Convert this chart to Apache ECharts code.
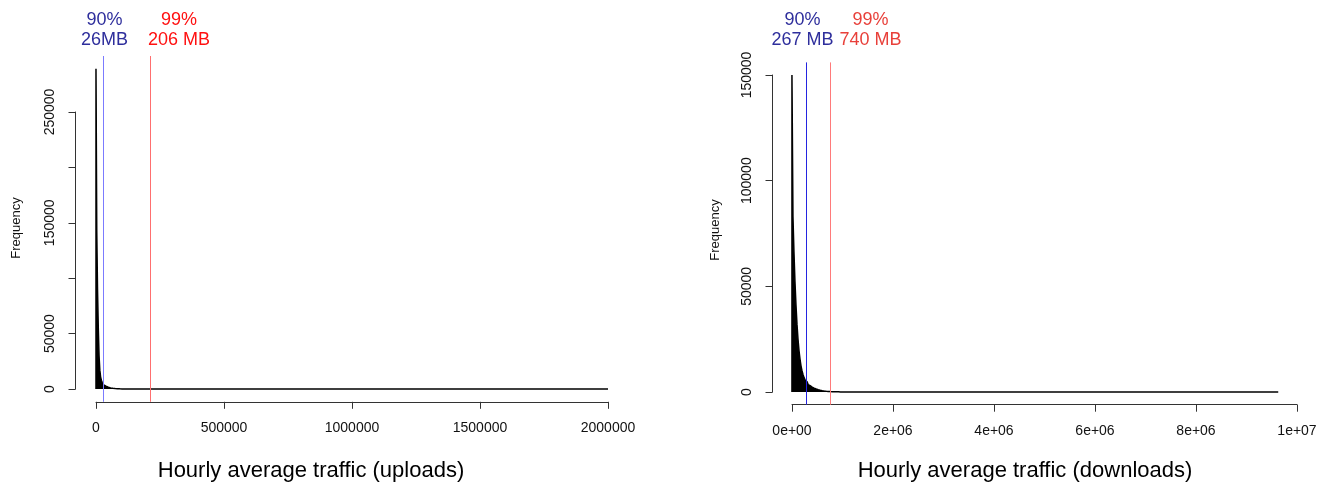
<!DOCTYPE html>
<html><head><meta charset="utf-8">
<script src="https://cdn.jsdelivr.net/npm/echarts@6/dist/echarts.min.js"></script>
<style>html,body{margin:0;padding:0;background:#fff}#c{width:1331px;height:489px}</style>
</head><body><div id="c"></div>
<script>
// ---------- data ----------
// uploads histogram (bin width in traffic units, KB)
const upBinWidth = 3000;
const upCounts = [289000, 143000, 90000, 55000, 30000, 17000, 11000, 8000, 6000, 4700,
  3800, 3100, 2600, 2200, 1850, 1550, 1300, 1100, 930, 790,
  670, 570, 490, 420, 360, 310, 265, 230, 200, 175, 150, 130, 110, 95, 80];
const upHistMax = 2000000;
const upXTicks = [0, 500000, 1000000, 1500000, 2000000];
const upYTicks = [0, 50000, 100000, 150000, 200000, 250000];
const upYShown = [0, 50000, 150000, 250000];
const upPctLabels = ['90%', '99%'];
const upPctMB = [26, 206];
const upPctText = ['26MB', '206 MB'];

// downloads histogram
const downBinWidth = 20000;
const downCounts = [150000, 83000, 66000, 52000, 41000, 32000, 25000, 19500, 15500, 12300,
  10000, 8200, 6800, 5700, 4800, 4100, 3500, 3000, 2600, 2300,
  2050, 1850, 1650, 1450, 1280, 1120, 980, 860, 750, 650,
  560, 490, 430, 380, 330, 290, 250, 220, 190, 170,
  150, 130, 115, 100, 90, 80, 70, 60, 50, 45, 40];
const downHistMax = 9630000;
const downXTicks = [0, 2000000, 4000000, 6000000, 8000000, 10000000];
const downYTicks = [0, 50000, 100000, 150000];
const downPctLabels = ['90%', '99%'];
const downPctMB = [267, 740];
const downPctText = ['267 MB', '740 MB'];

const titles = ['Hourly average traffic (uploads)', 'Hourly average traffic (downloads)'];
const yLabel = 'Frequency';

// ---------- build ----------
function histPoints(bw, counts, max) {
  const pts = [[0, 0]];
  counts.forEach((c, i) => pts.push([i * bw, c]));
  pts.push([counts.length * bw, 0]);
  pts.push([max, 0]);
  return pts;
}
function sci(v) {
  if (v === 0) return '0e+00';
  const e = Math.floor(Math.log10(v) + 1e-9);
  const m = Math.round(v / Math.pow(10, e));
  return m + 'e+' + (e < 10 ? '0' + e : e);
}
const FONT = "'Liberation Sans', Arial, Helvetica, sans-serif";
const axisCol = '#333';

const chart = echarts.init(document.getElementById('c'), null, {renderer: 'canvas'});

const upPlot = {left: 75.5, top: 56, width: 553, height: 345.8};
const downPlot = {left: 772.5, top: 62.4, width: 525.2, height: 342.3};

function hiddenAxis(gi, min, max) { return {gridIndex: gi, type: 'value', min, max, show: false}; }

const grids = [
  upPlot,
  {left: 96, top: 56, width: 512, height: 345.8},
  {left: 75.5, top: 112, width: 10, height: 277},
  downPlot,
  {left: 792, top: 62.4, width: 505, height: 342.3},
  {left: 772.5, top: 75, width: 10, height: 317}
];

const xAxisLabelStyle = {fontFamily: FONT, fontSize: 14, color: '#111', margin: 19};
const yAxisLabelBase = {fontFamily: FONT, fontSize: 14, color: '#111', rotate: 90, margin: 18};

const xAxes = [
  hiddenAxis(0, -80000, 2080000),
  {gridIndex: 1, type: 'value', min: upXTicks[0], max: upXTicks[upXTicks.length - 1],
   interval: upXTicks[1] - upXTicks[0], position: 'bottom',
   axisLine: {show: true, onZero: false, lineStyle: {color: axisCol, width: 1}},
   axisTick: {show: true, inside: false, length: 7, lineStyle: {color: axisCol}},
   splitLine: {show: false},
   axisLabel: Object.assign({}, xAxisLabelStyle, {formatter: v => String(v)})},
  hiddenAxis(2, 0, 1),
  hiddenAxis(3, -385200, 10015200),
  {gridIndex: 4, type: 'value', min: downXTicks[0], max: downXTicks[downXTicks.length - 1],
   interval: downXTicks[1] - downXTicks[0], position: 'bottom',
   axisLine: {show: true, onZero: false, lineStyle: {color: axisCol, width: 1}},
   axisTick: {show: true, inside: false, length: 7, lineStyle: {color: axisCol}},
   splitLine: {show: false},
   axisLabel: Object.assign({}, xAxisLabelStyle, {fontSize: 14, formatter: v => sci(v)})},
  hiddenAxis(5, 0, 1)
];
const yAxes = [
  hiddenAxis(0, -11560, 300560),
  hiddenAxis(1, 0, 1),
  {gridIndex: 2, type: 'value', min: upYTicks[0], max: upYTicks[upYTicks.length - 1],
   interval: upYTicks[1] - upYTicks[0], position: 'left',
   axisLine: {show: true, onZero: false, lineStyle: {color: axisCol, width: 1}},
   axisTick: {show: true, inside: false, length: 7, lineStyle: {color: axisCol}},
   splitLine: {show: false},
   axisLabel: Object.assign({}, yAxisLabelBase, {formatter: v => (upYShown.indexOf(v) >= 0 ? String(v) : '')})},
  hiddenAxis(3, -6000, 156000),
  hiddenAxis(4, 0, 1),
  {gridIndex: 5, type: 'value', min: downYTicks[0], max: downYTicks[downYTicks.length - 1],
   interval: downYTicks[1] - downYTicks[0], position: 'left',
   axisLine: {show: true, onZero: false, lineStyle: {color: axisCol, width: 1}},
   axisTick: {show: true, inside: false, length: 7, lineStyle: {color: axisCol}},
   splitLine: {show: false},
   axisLabel: Object.assign({}, yAxisLabelBase, {formatter: v => String(v)})}
];

function pctMarkLine(mbs, colors) {
  return {
    silent: true, symbol: 'none', animation: false,
    label: {show: false},
    data: mbs.map((mb, i) => ({xAxis: mb * 1024, lineStyle: {color: colors[i], width: 1, type: 'solid'}}))
  };
}

const series = [
  {type: 'line', xAxisIndex: 0, yAxisIndex: 0, step: 'end', showSymbol: false, symbol: 'none',
   animation: false,
   data: histPoints(upBinWidth, upCounts, upHistMax),
   lineStyle: {color: '#000', width: 1.5}, areaStyle: {color: '#000', opacity: 1},
   markLine: pctMarkLine(upPctMB, ['#7b7bff', '#ff6f6f'])},
  {type: 'line', xAxisIndex: 3, yAxisIndex: 3, step: 'end', showSymbol: false, symbol: 'none',
   animation: false,
   data: histPoints(downBinWidth, downCounts, downHistMax),
   lineStyle: {color: '#000', width: 1.5}, areaStyle: {color: '#000', opacity: 1},
   markLine: pctMarkLine(downPctMB, ['#2424e0', '#ff7a7a'])}
];

function txt(x, y, s, size, color, rot) {
  return {type: 'text', x, y, rotation: rot || 0, silent: true,
    style: {text: s, font: size + 'px ' + FONT, fill: color, align: 'center', verticalAlign: 'middle'}};
}
const graphic = [
  txt(104.5, 20, upPctLabels[0], 18, '#2e2e9c'),
  txt(104.5, 40, upPctText[0], 18, '#2e2e9c'),
  txt(179, 20, upPctLabels[1], 18, '#ff1010'),
  txt(179, 40, upPctText[1], 18, '#ff1010'),
  txt(802.5, 20, downPctLabels[0], 18, '#2e2e9c'),
  txt(802.5, 40, downPctText[0], 18, '#2e2e9c'),
  txt(870.5, 20, downPctLabels[1], 18, '#e8403a'),
  txt(870.5, 40, downPctText[1], 18, '#e8403a'),
  txt(16.5, 228, yLabel, 13, '#111', Math.PI / 2),
  txt(715, 230, yLabel, 13, '#111', Math.PI / 2),
  txt(311, 471, titles[0], 22, '#000'),
  txt(1025, 471, titles[1], 22, '#000')
];

chart.setOption({
  animation: false,
  backgroundColor: '#fff',
  grid: grids,
  xAxis: xAxes,
  yAxis: yAxes,
  series,
  graphic
});
</script></body></html>
